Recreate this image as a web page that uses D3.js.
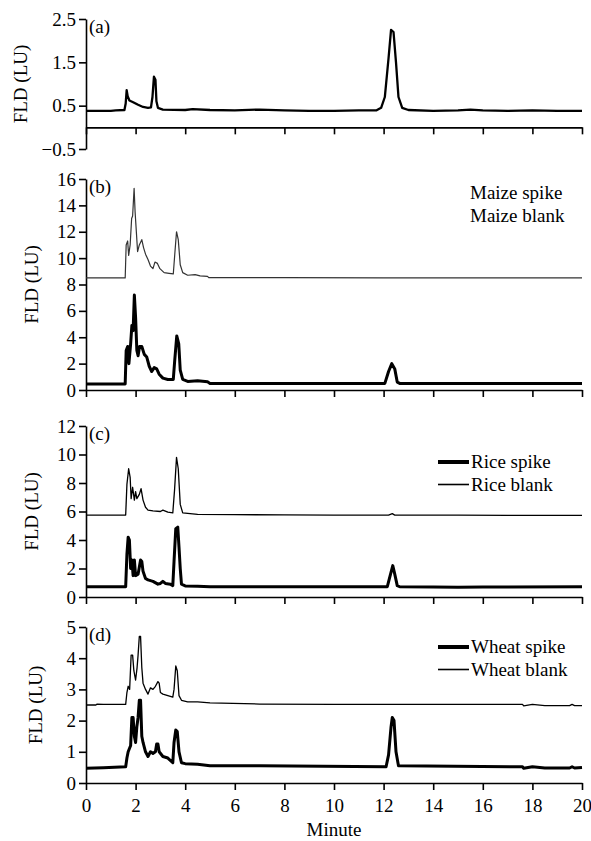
<!DOCTYPE html>
<html>
<head>
<meta charset="utf-8">
<script src="https://cdn.jsdelivr.net/npm/d3@7"></script>
<style>
    body { margin: 0; background: #fff; }
    svg text { font-family: "Liberation Serif", "Times New Roman", serif; fill: #000; }
</style>
</head>
<body>
<div id="chart"></div>
<script>
// retention time (minute) vs fluorescence (LU)
const xTicks = [0, 2, 4, 6, 8, 10, 12, 14, 16, 18, 20];

const standardTrace = [
    [0, 0.38], [1.0, 0.38], [1.2, 0.39], [1.55, 0.40], [1.6, 0.55], [1.64, 0.86], [1.68, 0.72],
    [1.75, 0.62], [1.9, 0.58], [2.1, 0.52], [2.3, 0.47], [2.5, 0.45], [2.62, 0.46], [2.68, 0.7],
    [2.74, 1.17], [2.8, 1.1], [2.84, 0.6], [2.9, 0.45], [3.1, 0.41], [4, 0.40], [4.3, 0.42],
    [5, 0.40], [6, 0.39], [7, 0.41], [8, 0.39], [9, 0.38], [10, 0.38], [11, 0.39], [11.7, 0.39],
    [11.9, 0.45], [12.05, 0.7], [12.2, 1.6], [12.3, 2.25], [12.4, 2.2], [12.5, 1.5], [12.6, 0.7],
    [12.75, 0.45], [13, 0.40], [14, 0.38], [15, 0.39], [15.5, 0.41], [16, 0.39], [17, 0.38],
    [18, 0.39], [19, 0.38], [20, 0.38]
];

const maizeBlank = [
    [0, 8.5], [1.58, 8.5], [1.62, 11.0], [1.68, 11.3], [1.72, 10.2], [1.78, 11.0], [1.84, 13.0],
    [1.88, 13.2], [1.94, 15.3], [1.98, 13.5], [2.03, 12.0], [2.08, 10.5], [2.15, 11.0], [2.25, 11.4],
    [2.32, 10.8], [2.4, 10.3], [2.5, 9.9], [2.6, 9.4], [2.7, 9.2], [2.78, 9.7], [2.88, 9.6],
    [2.98, 9.2], [3.15, 8.9], [3.35, 8.85], [3.52, 8.8], [3.58, 10.3], [3.65, 12.0], [3.72, 11.4],
    [3.8, 9.5], [3.9, 8.9], [4.1, 8.7], [4.4, 8.75], [4.6, 8.65], [4.9, 8.62], [4.95, 8.52],
    [8, 8.52], [12, 8.5], [16, 8.5], [20, 8.5]
];

const maizeSpike = [
    [0, 0.45], [1.58, 0.45], [1.62, 3.0], [1.68, 3.3], [1.73, 2.0], [1.8, 3.5], [1.85, 4.9],
    [1.9, 4.5], [1.95, 7.2], [2.0, 5.5], [2.05, 3.0], [2.1, 2.6], [2.16, 3.3], [2.25, 3.3],
    [2.35, 2.7], [2.45, 2.5], [2.55, 1.8], [2.65, 1.4], [2.75, 1.7], [2.85, 1.6], [2.95, 1.2],
    [3.1, 0.9], [3.3, 0.8], [3.52, 0.8], [3.58, 2.3], [3.66, 4.1], [3.74, 3.5], [3.8, 1.5],
    [3.9, 0.8], [4.1, 0.65], [4.5, 0.7], [4.9, 0.62], [5.0, 0.5], [8, 0.5], [12.05, 0.5],
    [12.2, 1.4], [12.33, 2.0], [12.45, 1.6], [12.55, 0.6], [12.65, 0.5], [16, 0.5], [20, 0.5]
];

const riceBlank = [
    [0, 5.75], [1.6, 5.75], [1.65, 7.9], [1.72, 9.0], [1.78, 8.4], [1.82, 6.9], [1.88, 7.7],
    [1.95, 6.8], [2.0, 7.4], [2.05, 6.9], [2.15, 7.2], [2.22, 7.6], [2.3, 6.8], [2.4, 6.3],
    [2.5, 6.1], [2.7, 6.05], [3.0, 6.0], [3.1, 6.1], [3.3, 5.95], [3.5, 5.9], [3.57, 7.5],
    [3.65, 9.8], [3.72, 9.0], [3.8, 6.5], [3.9, 5.9], [4.5, 5.8], [6, 5.78], [8, 5.76],
    [10, 5.75], [12.2, 5.75], [12.35, 5.85], [12.45, 5.75], [15, 5.74], [17, 5.73], [20, 5.73]
];

const riceSpike = [
    [0, 0.72], [1.6, 0.72], [1.65, 3.0], [1.7, 4.2], [1.75, 4.0], [1.8, 2.0], [1.85, 2.6],
    [1.9, 1.5], [1.95, 2.6], [2.0, 1.5], [2.1, 1.6], [2.2, 2.6], [2.25, 2.5], [2.3, 1.8],
    [2.4, 1.3], [2.5, 1.2], [2.7, 1.1], [2.9, 0.9], [3.0, 0.95], [3.1, 1.1], [3.2, 0.95],
    [3.4, 0.9], [3.5, 0.8], [3.55, 2.5], [3.62, 4.8], [3.7, 4.9], [3.75, 3.5], [3.8, 2.0],
    [3.85, 0.9], [4.0, 0.78], [4.5, 0.75], [5, 0.72], [12.15, 0.72], [12.28, 1.6], [12.37, 2.2],
    [12.45, 1.6], [12.55, 0.8], [12.65, 0.72], [14, 0.7], [15, 0.68], [16, 0.7], [20, 0.72]
];

const wheatBlank = [
    [0, 2.5], [0.4, 2.5], [0.45, 2.53], [0.7, 2.52], [1.6, 2.52], [1.65, 2.9], [1.7, 3.1],
    [1.76, 3.0], [1.82, 4.1], [1.88, 4.1], [1.93, 3.6], [2.0, 3.3], [2.06, 3.7], [2.1, 4.1],
    [2.15, 4.7], [2.2, 4.7], [2.25, 3.7], [2.3, 3.2], [2.4, 3.0], [2.5, 2.85], [2.6, 3.05],
    [2.7, 3.0], [2.8, 3.1], [2.9, 3.25], [2.95, 3.2], [3.0, 2.9], [3.1, 2.85], [3.3, 2.8],
    [3.5, 2.75], [3.55, 3.0], [3.62, 3.75], [3.68, 3.6], [3.75, 2.8], [3.85, 2.65], [4.1, 2.6],
    [4.5, 2.6], [5.0, 2.57], [7, 2.53], [10, 2.52], [17.6, 2.52], [17.65, 2.47], [18.0, 2.52],
    [18.5, 2.48], [19.5, 2.48], [19.6, 2.52], [19.7, 2.48], [20, 2.48]
];

const wheatSpike = [
    [0, 0.47], [0.7, 0.49], [1.6, 0.52], [1.65, 0.8], [1.7, 1.0], [1.8, 1.2], [1.85, 2.1],
    [1.9, 2.1], [1.95, 1.5], [2.0, 1.3], [2.05, 1.8], [2.1, 2.1], [2.15, 2.65], [2.2, 2.65],
    [2.25, 1.5], [2.3, 1.3], [2.4, 1.0], [2.5, 0.85], [2.6, 1.0], [2.7, 0.95], [2.8, 1.0],
    [2.85, 1.25], [2.9, 1.25], [2.95, 1.0], [3.1, 0.85], [3.3, 0.8], [3.5, 0.65], [3.55, 1.3],
    [3.62, 1.7], [3.68, 1.65], [3.75, 1.0], [3.85, 0.65], [4.0, 0.62], [4.5, 0.6], [5, 0.55],
    [7, 0.55], [12.1, 0.52], [12.2, 0.9], [12.3, 1.8], [12.35, 2.1], [12.42, 2.0], [12.5, 1.0],
    [12.6, 0.55], [17.6, 0.52], [17.65, 0.47], [18.0, 0.52], [18.5, 0.48], [19.5, 0.48],
    [19.6, 0.52], [19.7, 0.48], [20, 0.5]
];

const panelLabels = ['(a)', '(b)', '(c)', '(d)'];
const legendMaize = ['Maize spike', 'Maize blank'];
const legendRice = ['Rice spike', 'Rice blank'];
const legendWheat = ['Wheat spike', 'Wheat blank'];

const width = 591, height = 841;
const left = 86, right = 582;
const fontSize = '19px';

const svg = d3.select('#chart')
    .append('svg')
    .attr('width', width)
    .attr('height', height);

const x = d3.scaleLinear().domain([0, 20]).range([left, right]);

// one block per chromatogram panel
const panels = [
    { label: panelLabels[0], top: 19, bottom: 149, domain: [-0.5, 2.5], ticks: [-0.5, 0.5, 1.5, 2.5],
      labelX: 21, series: [{ data: standardTrace, width: 2.3, color: '#000' }], legend: null },
    { label: panelLabels[1], top: 179, bottom: 390, domain: [0, 16], ticks: d3.range(0, 17, 2),
      labelX: 32, series: [{ data: maizeBlank, width: 1.2, color: '#333' }, { data: maizeSpike, width: 3, color: '#000' }],
      legend: { names: legendMaize, y: 199, lines: false } },
    { label: panelLabels[2], top: 426, bottom: 597, domain: [0, 12], ticks: d3.range(0, 13, 2),
      labelX: 32, series: [{ data: riceBlank, width: 1.3, color: '#000' }, { data: riceSpike, width: 3, color: '#000' }],
      legend: { names: legendRice, y: 468, lines: true } },
    { label: panelLabels[3], top: 627, bottom: 783, domain: [0, 5], ticks: d3.range(0, 6, 1),
      labelX: 36, series: [{ data: wheatBlank, width: 1.3, color: '#000' }, { data: wheatSpike, width: 3, color: '#000' }],
      legend: { names: legendWheat, y: 653, lines: true } }
];

panels.forEach((p, i) => {
    const y = d3.scaleLinear().domain(p.domain).range([p.bottom, p.top]);
    const g = svg.append('g');
    const isLast = i === panels.length - 1;

    // y axis
    const yAxis = g.append('g')
        .attr('transform', `translate(${left},0)`)
        .call(d3.axisLeft(y).tickValues(p.ticks).tickSize(7).tickSizeOuter(0).tickPadding(3)
            .tickFormat(d => (p.domain[0] < 0 ? d3.format('.1f')(d) : d)));
    yAxis.select('.domain').attr('stroke-width', 1.6);
    yAxis.selectAll('.tick line').attr('stroke-width', 1.6);
    yAxis.selectAll('text').style('font-size', fontSize).style('font-family', '"Liberation Serif", serif');

    // x axis sits at zero
    const xAxis = g.append('g')
        .attr('transform', `translate(0,${y(0)})`)
        .call(d3.axisBottom(x).tickValues(xTicks).tickSize(7).tickSizeOuter(0).tickPadding(9)
            .tickFormat(isLast ? d3.format('d') : () => ''));
    xAxis.select('.domain').attr('stroke-width', 1.6);
    xAxis.selectAll('.tick line').attr('stroke-width', 1.6);
    xAxis.selectAll('text').style('font-size', fontSize).style('font-family', '"Liberation Serif", serif');

    const line = d3.line()
        .x(d => x(d[0]))
        .y(d => y(d[1]));

    p.series.forEach(s => {
        g.append('path')
            .datum(s.data)
            .attr('d', line)
            .attr('fill', 'none')
            .attr('stroke', s.color)
            .attr('stroke-width', s.width)
            .attr('stroke-linejoin', 'round');
    });

    g.append('text')
        .attr('x', 89)
        .attr('y', p.top + 14)
        .style('font-size', fontSize)
        .text(p.label);

    g.append('text')
        .attr('transform', `translate(${p.labelX + 6},${(p.top + p.bottom) / 2}) rotate(-90)`)
        .attr('text-anchor', 'middle')
        .style('font-size', fontSize)
        .text('FLD  (LU)');

    if (p.legend) {
        p.legend.names.forEach((name, k) => {
            const ly = p.legend.y + k * 22.5;
            if (p.legend.lines) {
                g.append('line')
                    .attr('x1', 438).attr('x2', 469)
                    .attr('y1', ly - 6).attr('y2', ly - 6)
                    .attr('stroke', '#000')
                    .attr('stroke-width', k === 0 ? 4 : 1.6);
            }
            g.append('text')
                .attr('x', p.legend.lines ? 471 : 470)
                .attr('y', ly)
                .style('font-size', fontSize)
                .text(name);
        });
    }
});

svg.append('text')
    .attr('x', 334)
    .attr('y', 836)
    .attr('text-anchor', 'middle')
    .style('font-size', fontSize)
    .text('Minute');
</script>
</body>
</html>
